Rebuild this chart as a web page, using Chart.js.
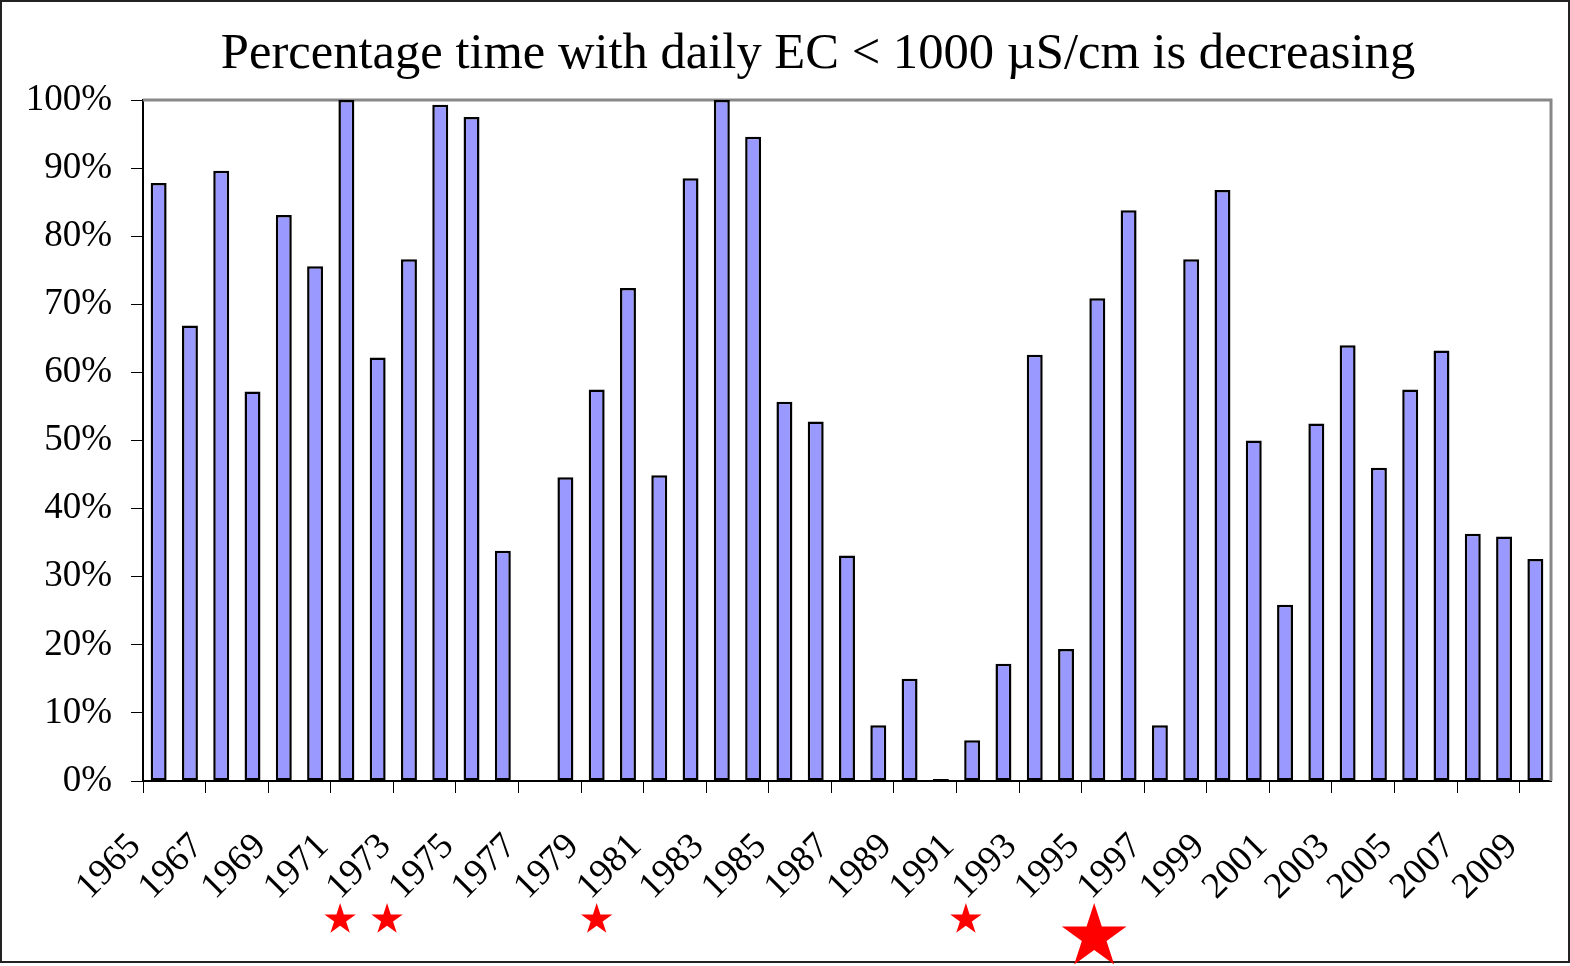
<!DOCTYPE html>
<html>
<head>
<meta charset="utf-8">
<script src="https://cdn.jsdelivr.net/npm/chart.js@4.4.0/dist/chart.umd.min.js"></script>
<style>
  body { margin: 0; background: #fff; }
  #wrap { width: 1570px; height: 966px; position: relative; }
</style>
</head>
<body>
<div id="wrap"><canvas id="canvas"></canvas></div>
<script>
// Years on the category axis (labels shown every second year)
var years = [
  '1965','1966','1967','1968','1969','1970','1971','1972','1973','1974',
  '1975','1976','1977','1978','1979','1980','1981','1982','1983','1984',
  '1985','1986','1987','1988','1989','1990','1991','1992','1993','1994',
  '1995','1996','1997','1998','1999','2000','2001','2002','2003','2004',
  '2005','2006','2007','2008','2009'
];

// Percentage of time with daily EC < 1000 uS/cm (1977 has no value)
var pctBelow = [
  87.8, 66.9, 89.6, 57.2, 83.1, 75.6, 100, 62.2, 76.6, 99.3,
  97.5, 33.8, null, 44.6, 57.5, 72.4, 44.9, 88.5, 100, 94.6,
  55.7, 52.8, 33.1, 8.2, 15.0, 0.3, 6.0, 17.2, 62.6, 19.4,
  70.9, 83.8, 8.2, 76.6, 86.8, 50.0, 25.9, 52.5, 64.0, 46.0,
  57.5, 63.2, 36.3, 35.9, 32.6
];

// Years marked with a red star below the axis, and which one is the major one
var starYears = [1970.8, 1972.3, 1979.0, 1990.8, 1994.9];
var starMajor = [false, false, false, false, true];

var serif = "'Liberation Serif', 'Times New Roman', serif";

function drawStar(c, cx, cy, R) {
  var r = R * 0.382;
  c.beginPath();
  for (var k = 0; k < 10; k++) {
    var ang = -Math.PI / 2 + k * Math.PI / 5;
    var rad = (k % 2 === 0) ? R : r;
    var px = cx + rad * Math.cos(ang), py = cy + rad * Math.sin(ang);
    if (k === 0) c.moveTo(px, py); else c.lineTo(px, py);
  }
  c.closePath();
  c.fill();
}

var decor = {
  id: 'decor',
  afterLayout: function(chart) {
    // title sits centred a bit right of the canvas middle, like the original
    if (chart.titleBlock) chart.titleBlock.left = 85;
  },
  beforeDraw: function(chart) {
    var c = chart.ctx;
    c.save();
    c.fillStyle = '#fff';
    c.fillRect(0, 0, chart.width, chart.height);
    c.restore();
  },
  beforeDatasetsDraw: function(chart) {
    var c = chart.ctx, a = chart.chartArea;
    c.save();
    c.strokeStyle = '#888';
    c.lineWidth = 3;
    c.beginPath();
    c.moveTo(a.left, a.top);
    c.lineTo(a.right, a.top);
    c.lineTo(a.right, a.bottom);
    c.stroke();
    c.restore();
  },
  afterDraw: function(chart) {
    var c = chart.ctx, xs = chart.scales.x;
    c.save();
    // outer frame of the figure
    c.strokeStyle = '#222';
    c.lineWidth = 2;
    c.strokeRect(1, 1, chart.width - 2, 961);
    // event stars
    c.fillStyle = '#ff0000';
    var top = xs.top + 122;
    for (var i = 0; i < starYears.length; i++) {
      var x = xs.getPixelForValue(starYears[i] - 1965);
      var R = starMajor[i] ? 34 : 16.5;
      drawStar(c, x, top + R, R);
    }
    c.restore();
  }
};

var ctx = document.getElementById('canvas').getContext('2d');
var myChart = new Chart(ctx, {
  type: 'bar',
  data: {
    labels: years,
    datasets: [{
      label: '% time EC < 1000',
      data: pctBelow,
      backgroundColor: '#9999ff',
      borderColor: '#000',
      borderWidth: 2.5,
      borderSkipped: false,
      categoryPercentage: 1,
      barPercentage: 0.51
    }]
  },
  options: {
    responsive: true,
    maintainAspectRatio: false,
    animation: false,
    layout: { padding: { left: 20, right: 19, top: 0, bottom: 0 } },
    plugins: {
      legend: { display: false },
      tooltip: { enabled: false },
      title: {
        display: true,
        text: 'Percentage time with daily EC < 1000 \u00b5S/cm is decreasing',
        color: '#000',
        font: { family: serif, size: 50.6, weight: 'normal' },
        padding: { top: 24.6, bottom: 14.7 }
      }
    },
    scales: {
      x: {
        grid: {
          offset: true,
          drawOnChartArea: false,
          tickLength: 12,
          tickColor: function(c) { return c.index % 2 === 0 ? '#000' : 'rgba(0,0,0,0)'; }
        },
        border: { color: '#000', width: 2 },
        ticks: {
          autoSkip: false,
          maxRotation: 45,
          minRotation: 45,
          padding: 32,
          labelOffset: -23.4,
          color: '#000',
          font: { family: serif, size: 37 },
          callback: function(v, i) { return i % 2 === 0 ? years[i] : ''; }
        },
        afterFit: function(s) { s.height = 185; s.paddingLeft = 0; s.paddingRight = 0; }
      },
      y: {
        min: 0,
        max: 100,
        grid: { drawOnChartArea: false, tickLength: 12, tickColor: '#000' },
        border: { color: '#000', width: 2 },
        ticks: {
          stepSize: 10,
          padding: 19,
          color: '#000',
          font: { family: serif, size: 37 },
          callback: function(v) { return v + '%'; }
        },
        afterFit: function(s) { s.width = 123; }
      }
    }
  },
  plugins: [decor]
});
</script>
</body>
</html>
